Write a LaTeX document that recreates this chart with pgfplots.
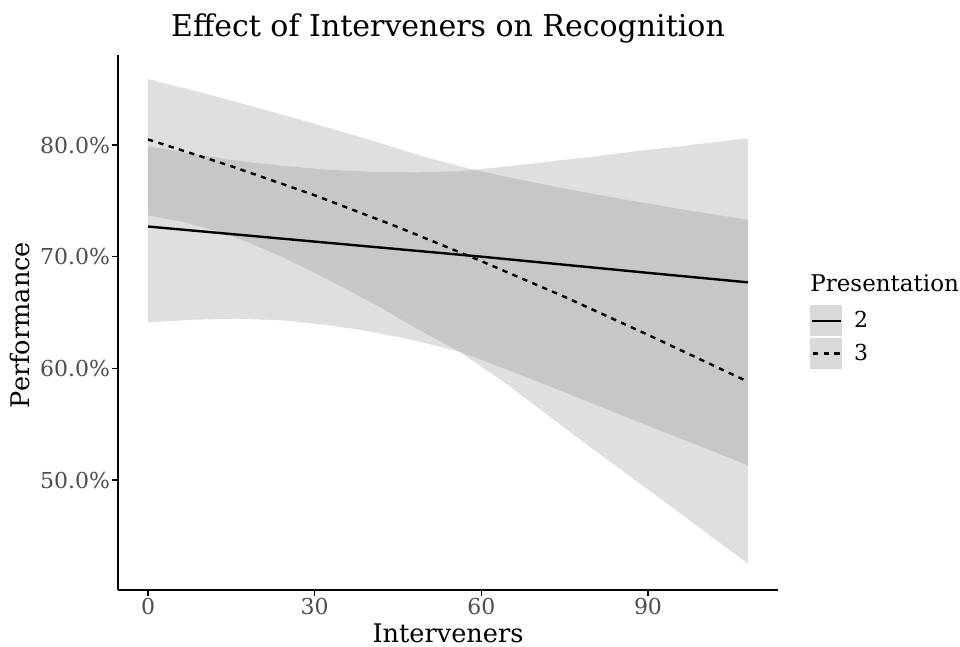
\documentclass[border=0pt]{standalone}
\usepackage{fontspec}
\setmainfont{DejaVu Serif}
\usepackage{pgfplots}
\pgfplotsset{compat=1.18}
\usepgfplotslibrary{fillbetween}
\definecolor{ticktext}{HTML}{4D4D4D}
\definecolor{keyfill}{HTML}{D9D9D9}
\begin{document}
\begin{tikzpicture}
\begin{axis}[
  at={(0,0)}, anchor=south west,
  scale only axis, width=330pt, height=267.5pt,
  xmin=-5.4, xmax=113.4, ymin=40.15, ymax=88.06,
  axis lines=left, axis line style={-, line width=0.8pt},
  tick align=outside, major tick length=3pt, tick style={black, line width=0.6pt},
  xtick={0,30,60,90}, xticklabels={0,30,60,90},
  ytick={50,60,70,80}, yticklabels={50.0\%,60.0\%,70.0\%,80.0\%},
  ticklabel style={font=\fontsize{11}{13}\selectfont, text=ticktext},
  yticklabel style={xshift=2.5pt},
  xticklabel style={yshift=2.5pt},
  legend style={at={(1.0485,0.5327)}, anchor=north west, draw=none, fill=none,
    inner sep=0pt, row sep=1pt, font=\fontsize{11}{13}\selectfont,
    nodes={inner xsep=6pt, inner ysep=0pt}},
  legend cell align=left,
]
% Presentation 2 ribbon
\addplot[name path=s2u, draw=none, forget plot] coordinates {
 (0,79.9) (8,79.2) (16,78.6) (24,78.15) (32,77.8) (40,77.6) (48,77.55) (56,77.65) (64,78.05) (72,78.5) (80,78.95) (88,79.45) (96,79.9) (108,80.6)};
\addplot[name path=s2l, draw=none, forget plot] coordinates {
 (0,64.1) (8,64.35) (16,64.45) (24,64.3) (32,63.9) (40,63.3) (48,62.5) (56,61.5) (64,60.0) (72,58.45) (80,56.85) (90,54.85) (100,52.9) (108,51.3)};
\addplot[fill=black!50, fill opacity=0.25, draw=none, forget plot] fill between[of=s2u and s2l];
% Presentation 3 ribbon
\addplot[name path=s3u, draw=none, forget plot] coordinates {
 (0,85.9) (10,84.65) (20,83.3) (30,81.9) (40,80.45) (50,78.9) (58,77.85) (66,77.0) (76,76.0) (86,75.1) (96,74.25) (108,73.3)};
\addplot[name path=s3l, draw=none, forget plot] coordinates {
 (0,73.7) (6,73.15) (12,72.35) (18,71.3) (24,70.0) (30,68.55) (36,67.0) (42,65.4) (48,63.65) (56,61.5) (64,58.8) (72,55.8) (80,52.8) (90,49.15) (100,45.45) (108,42.5)};
\addplot[fill=black!50, fill opacity=0.25, draw=none, forget plot] fill between[of=s3u and s3l];
% lines
\addplot[black, line width=1.2pt, forget plot] coordinates {
 (0,72.7) (30,71.35) (60,70.0) (90,68.55) (108,67.7)};
\addplot[black, line width=1.2pt, dash pattern=on 2.7pt off 2.7pt, forget plot] coordinates {
 (0,80.5) (15,78.1) (30,75.5) (45,72.65) (60,69.6) (75,66.4) (90,63.0) (108,58.8)};
\addlegendimage{legend image code/.code={\fill[keyfill] (0pt,-7.5pt) rectangle (15.5pt,7.5pt); \draw[black, line width=1.2pt, solid] (0.5pt,0pt) -- (15pt,0pt);}}
\addlegendentry{2}
\addlegendimage{legend image code/.code={\fill[keyfill] (0pt,-7.5pt) rectangle (15.5pt,7.5pt); \draw[black, line width=1.2pt, dash pattern=on 2.7pt off 2.7pt] (1pt,0pt) -- (15pt,0pt);}}
\addlegendentry{3}
\end{axis}
\node[font=\fontsize{15}{18}\selectfont] at (165pt,281pt) {Effect of Interveners on Recognition};
\node[font=\fontsize{12.8}{15}\selectfont] at (165pt,-21.5pt) {Interveners};
\node[font=\fontsize{12.8}{15}\selectfont, rotate=90] at (-49pt,132.5pt) {Performance};
\node[font=\fontsize{11.5}{14}\selectfont, anchor=west, inner sep=0pt] at (346pt,153.5pt) {Presentation};
\pgfresetboundingbox
\useasboundingbox (-59pt,-28.5pt) rectangle (421pt,295pt);
\end{tikzpicture}
\end{document}
